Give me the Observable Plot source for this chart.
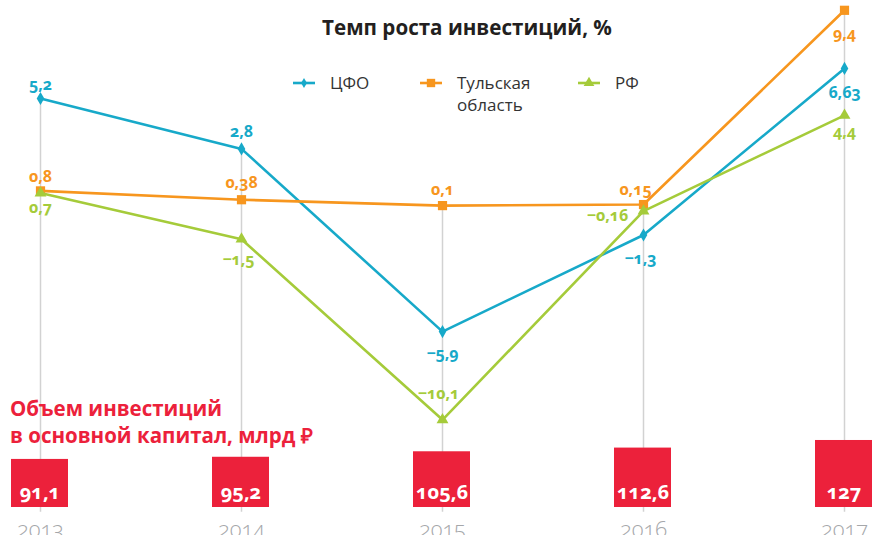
<!DOCTYPE html>
<html><head><meta charset="utf-8">
<script src="https://cdn.jsdelivr.net/npm/d3@7"></script>
<script src="https://cdn.jsdelivr.net/npm/@observablehq/plot@0.6"></script>
<style>
body{margin:0;background:#fff;}
#wrap{position:relative;width:887px;height:535px;overflow:hidden;font-family:"Open Sans",sans-serif;}
#wrap > svg{position:absolute;left:0;top:0;}
#wrap svg text{font-variant-numeric:oldstyle-nums;}
</style></head><body><div id="wrap"></div>
<script>
// ---- data ----
const years = ["2013", "2014", "2015", "2016", "2017"];
const seriesNames = ["ЦФО", "Тульская область", "РФ"];
const cfo = [5.2, 2.8, -5.9, -1.3, 6.63];
const tula = [0.8, 0.38, 0.1, 0.15, 9.4];
const rf = [0.7, -1.5, -10.1, -0.16, 4.4];
const investment = [91.1, 95.2, 105.6, 112.6, 127];
const titleText = "Темп роста инвестиций, %";
const noteLines = ["Объем инвестиций", "в основной капитал, млрд ₽"];

// ---- style ----
const colors = {"ЦФО": "#17a9c9", "Тульская область": "#f7961e", "РФ": "#a5cb3a"};
const symbols = {"ЦФО": "diamond", "Тульская область": "square", "РФ": "triangle"};
const radii = {"ЦФО": 4, "Тульская область": 5.2, "РФ": 4.4};
// label offsets [dx, dy] in pixels, per series, per year
const labelOffsets = {
  "ЦФО": [[0, -14], [0, -17], [0, 22], [-3, 24], [0, 24]],
  "Тульская область": [[0, -14], [0, -17], [0, -16], [-8, -15], [0, 24]],
  "РФ": [[0, 15], [-3, 21], [-4, -26], [-36, 5], [0, 17]]
};
const fmt = v => String(v).replace(".", ",").replace("-", "−");

const valuesBy = {"ЦФО": cfo, "Тульская область": tula, "РФ": rf};
const rows = [];
for (const s of seriesNames) years.forEach((y, i) => rows.push({series: s, year: y, value: valuesBy[s][i], i}));
const tops = years.map((y, i) => ({year: y, top: Math.max(cfo[i], tula[i], rf[i])}));
const bars = years.map((y, i) => ({year: y, value: investment[i]}));

const drawOrder = ["ЦФО", "Тульская область", "РФ"];
const lineMarks = [];
for (const s of drawOrder) {
  const d = rows.filter(r => r.series === s);
  lineMarks.push(Plot.line(d, {x: "year", y: "value", stroke: colors[s], strokeWidth: 2.6}));
  lineMarks.push(Plot.dot(d, {x: "year", y: "value", symbol: symbols[s], r: radii[s], fill: colors[s], stroke: "none"}));
}
const labelMarks = [];
for (const s of drawOrder) {
  rows.filter(r => r.series === s).forEach(r => {
    const [dx, dy] = labelOffsets[s][r.i];
    labelMarks.push(Plot.text([r], {x: "year", y: "value", text: d => fmt(d.value), dx, dy,
      fill: colors[s], fontWeight: "bold", fontSize: 16, lineAnchor: "middle"}));
  });
}

const linePlot = Plot.plot({
  width: 887, height: 535, margin: 0, marginBottom: 15,
  style: {background: "transparent", fontFamily: "Open Sans, sans-serif"},
  x: {type: "point", domain: years, range: [38, 845], padding: 0, axis: null},
  y: {domain: [-15, 10], range: [522.2, -2.8], axis: null},
  marks: [
    Plot.ruleX(tops, {x: "year", y1: "top", y2: -14.5, stroke: "#d2d2d2", strokeWidth: 1.5}),
    ...lineMarks,
    ...labelMarks,
    Plot.axisX({tickSize: 0, tickPadding: 1, fontSize: 22, fontWeight: 300, fill: "#a5a7aa", label: null})
  ]
});

const barPlot = Plot.plot({
  width: 887, height: 535, margin: 0,
  style: {background: "transparent", fontFamily: "Open Sans, sans-serif"},
  x: {type: "band", domain: years, range: [-135.25, 1018.26], padding: 0.7175, axis: null},
  y: {domain: [0, 130], range: [507, 438.4], axis: null},
  marks: [
    Plot.barY(bars, {x: "year", y: "value", fill: "#ec213b"}),
    Plot.text(bars, {x: "year", y: 0, dy: -15, text: d => fmt(d.value), fill: "white",
      fontWeight: "bold", fontSize: 20, lineAnchor: "middle"})
  ]
});

// ---- title, legend, note ----
const svg = d3.create("svg").attr("width", 887).attr("height", 535)
  .style("font-family", "Open Sans, sans-serif");
svg.append("text").attr("x", 467).attr("y", 35).attr("text-anchor", "middle")
  .attr("font-size", 20.6).attr("font-weight", "bold").attr("fill", "#231f20").text(titleText);

const legendItems = [
  {name: "ЦФО", x: 293, lines: ["ЦФО"]},
  {name: "Тульская область", x: 420, lines: ["Тульская", "область"]},
  {name: "РФ", x: 578, lines: ["РФ"]}
];
const sym = {diamond: d3.symbolDiamond, square: d3.symbolSquare, triangle: d3.symbolTriangle};
const symSize = {"ЦФО": 30, "Тульская область": 70, "РФ": 50};
for (const it of legendItems) {
  const g = svg.append("g");
  g.append("line").attr("x1", it.x).attr("x2", it.x + 22).attr("y1", 83).attr("y2", 83)
    .attr("stroke", colors[it.name]).attr("stroke-width", 2.6);
  g.append("path").attr("transform", `translate(${it.x + 11},83)`)
    .attr("d", d3.symbol(sym[symbols[it.name]], symSize[it.name])()).attr("fill", colors[it.name]);
  it.lines.forEach((t, k) => g.append("text").attr("x", it.x + 37).attr("y", 89 + k * 22)
    .attr("font-size", 17).attr("fill", "#333").text(t));
}
noteLines.forEach((t, k) => svg.append("text").attr("x", 10).attr("y", 416 + k * 27)
  .attr("font-size", 20.5).attr("font-weight", "bold").attr("fill", "#ec213b").text(t));

const wrap = document.getElementById("wrap");
wrap.append(linePlot, barPlot, svg.node());
</script>
</body></html>
